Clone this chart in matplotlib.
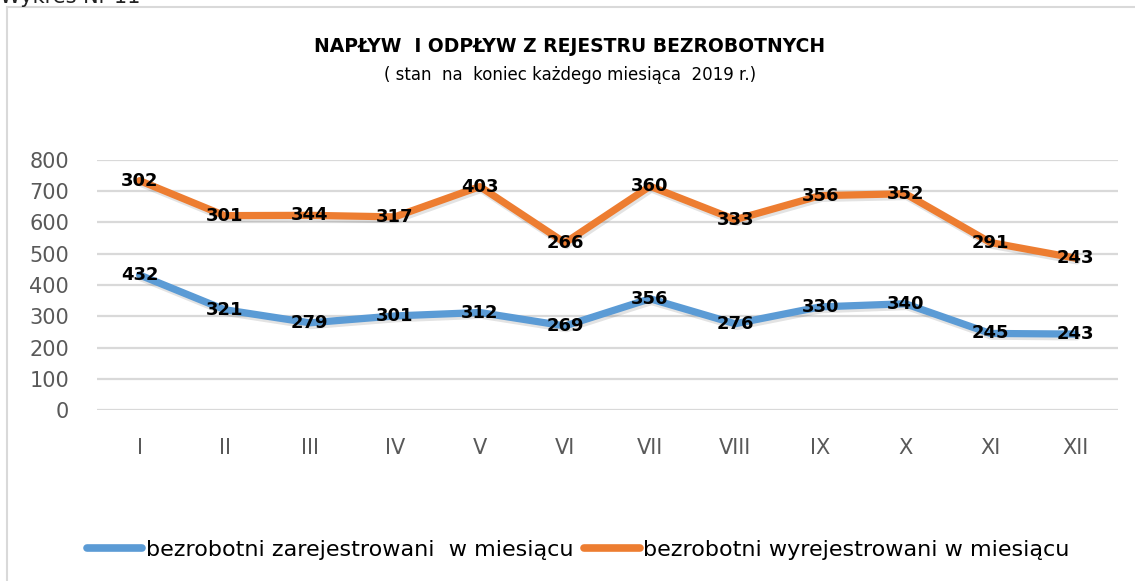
import numpy as np
import matplotlib; matplotlib.use('Agg')
import matplotlib.pyplot as plt
import matplotlib.patheffects as pe
from matplotlib.lines import Line2D

months = ['I', 'II', 'III', 'IV', 'V', 'VI', 'VII', 'VIII', 'IX', 'X', 'XI', 'XII']
zarejestrowani = [432, 321, 279, 301, 312, 269, 356, 276, 330, 340, 245, 243]
wyrejestrowani = [302, 301, 344, 317, 403, 266, 360, 333, 356, 352, 291, 243]
yticks = [0, 100, 200, 300, 400, 500, 600, 700, 800]

BLUE, ORANGE = '#5B9BD5', '#ED7D31'
GRID = '#D9D9D9'
plt.rcParams['font.family'] = ['DejaVu Sans']

W, H = 1135, 581
fig = plt.figure(figsize=(W/100, H/100), dpi=100)
px = lambda x: x / W
py = lambda y: 1 - y / H

# chart frame (cut by image edge on right/bottom) + cropped caption above
fig.add_artist(Line2D([px(7), px(7)], [py(7), 0], color=GRID, lw=1.5))
fig.add_artist(Line2D([px(7), 1], [py(7), py(7)], color=GRID, lw=1.5))
fig.text(px(0), py(3), 'Wykres Nr 11', fontsize=15, color='#222222', ha='left', va='baseline')

ax = fig.add_axes([px(97), py(410), px(1118) - px(97), py(160) - py(410)])
x = np.arange(len(months))
blue = np.array(zarejestrowani)
orange = blue + np.array(wyrejestrowani)   # stacked line chart

shadow = [pe.SimpleLineShadow(offset=(1, -2), alpha=0.12, shadow_color='0.1'), pe.Normal()]
ax.plot(x, blue, color=BLUE, lw=5.2, solid_capstyle='round', path_effects=shadow, zorder=3)
ax.plot(x, orange, color=ORANGE, lw=5.2, solid_capstyle='round', path_effects=shadow, zorder=3)

for i in range(len(months)):
    ax.text(x[i], blue[i], str(zarejestrowani[i]), ha='center', va='center', fontsize=13,
            fontweight='bold', color='black', zorder=5)
    ax.text(x[i], orange[i], str(wyrejestrowani[i]), ha='center', va='center', fontsize=13,
            fontweight='bold', color='black', zorder=5)

ax.set_xlim(-0.5, len(months) - 0.5)
ax.set_ylim(0, 800)
ax.set_yticks(yticks)
ax.set_xticks(x)
ax.set_xticklabels(months)
ax.yaxis.grid(True, color=GRID, lw=1.6)
ax.set_axisbelow(True)
for s in ax.spines.values():
    s.set_visible(False)
ax.tick_params(length=0, labelsize=15, labelcolor='#595959')
ax.tick_params(axis='y', pad=20)
ax.tick_params(axis='x', pad=20)

fig.text(px(570), py(47), 'NAPŁYW  I ODPŁYW Z REJESTRU BEZROBOTNYCH', ha='center', va='center',
         fontsize=13.5, fontweight='bold', color='black')
fig.text(px(570), py(75), '( stan  na  koniec każdego miesiąca  2019 r.)', ha='center', va='center',
         fontsize=12, color='black')

handles = [Line2D([], [], color=BLUE, lw=5.5, solid_capstyle='round'),
           Line2D([], [], color=ORANGE, lw=5.5, solid_capstyle='round')]
fig.legend(handles, ['bezrobotni zarejestrowani  w miesiącu', 'bezrobotni wyrejestrowani w miesiącu'],
           loc='center', bbox_to_anchor=(px(578), py(550)), ncol=2, frameon=False,
           fontsize=16, handlelength=2.5, handletextpad=0.15, columnspacing=0.5)

fig.savefig('out.png', dpi=100, facecolor='white')
